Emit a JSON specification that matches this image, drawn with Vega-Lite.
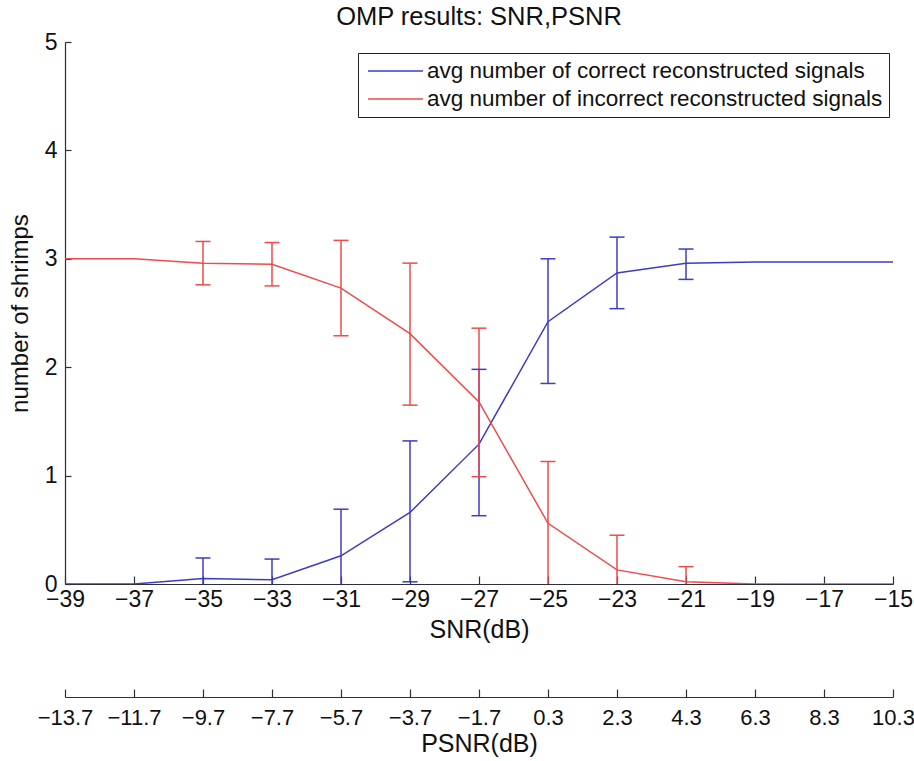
{
  "$schema": "https://vega.github.io/schema/vega-lite/v6.json",
  "width": 828,
  "height": 542,
  "autosize": {"type": "none"},
  "padding": {"left": 65, "top": 42, "right": 21, "bottom": 177},
  "background": "white",
  "config": {
    "font": "Liberation Sans",
    "view": {"stroke": null},
    "axis": {"grid": false, "domainColor": "#2e2e3e", "tickColor": "#2e2e3e", "labelColor": "#111", "titleColor": "#111", "labelFont": "Liberation Sans", "titleFont": "Liberation Sans", "titleFontWeight": "normal", "labelFontSize": 23, "titleFontSize": 25, "domainWidth": 1.2, "tickWidth": 1.2}
  },
  "title": {"text": "OMP results: SNR,PSNR", "fontSize": 25.5, "font": "Liberation Sans", "fontWeight": "normal", "color": "#111", "anchor": "middle", "offset": 8, "dy": 7},
  "datasets": {
    "main": [
      {"snr": -39, "series": "avg number of correct reconstructed signals", "value": 0.0, "lo": null, "hi": null},
      {"snr": -37, "series": "avg number of correct reconstructed signals", "value": 0.0, "lo": null, "hi": null},
      {"snr": -35, "series": "avg number of correct reconstructed signals", "value": 0.05, "lo": -0.14, "hi": 0.24},
      {"snr": -33, "series": "avg number of correct reconstructed signals", "value": 0.04, "lo": -0.15, "hi": 0.23},
      {"snr": -31, "series": "avg number of correct reconstructed signals", "value": 0.26, "lo": -0.17, "hi": 0.69},
      {"snr": -29, "series": "avg number of correct reconstructed signals", "value": 0.66, "lo": 0.02, "hi": 1.32},
      {"snr": -27, "series": "avg number of correct reconstructed signals", "value": 1.29, "lo": 0.63, "hi": 1.98},
      {"snr": -25, "series": "avg number of correct reconstructed signals", "value": 2.42, "lo": 1.85, "hi": 3.0},
      {"snr": -23, "series": "avg number of correct reconstructed signals", "value": 2.87, "lo": 2.54, "hi": 3.2},
      {"snr": -21, "series": "avg number of correct reconstructed signals", "value": 2.96, "lo": 2.81, "hi": 3.09},
      {"snr": -19, "series": "avg number of correct reconstructed signals", "value": 2.97, "lo": null, "hi": null},
      {"snr": -17, "series": "avg number of correct reconstructed signals", "value": 2.97, "lo": null, "hi": null},
      {"snr": -15, "series": "avg number of correct reconstructed signals", "value": 2.97, "lo": null, "hi": null},
      {"snr": -39, "series": "avg number of incorrect reconstructed signals", "value": 3.0, "lo": null, "hi": null},
      {"snr": -37, "series": "avg number of incorrect reconstructed signals", "value": 3.0, "lo": null, "hi": null},
      {"snr": -35, "series": "avg number of incorrect reconstructed signals", "value": 2.96, "lo": 2.76, "hi": 3.16},
      {"snr": -33, "series": "avg number of incorrect reconstructed signals", "value": 2.95, "lo": 2.75, "hi": 3.15},
      {"snr": -31, "series": "avg number of incorrect reconstructed signals", "value": 2.73, "lo": 2.29, "hi": 3.17},
      {"snr": -29, "series": "avg number of incorrect reconstructed signals", "value": 2.31, "lo": 1.65, "hi": 2.96},
      {"snr": -27, "series": "avg number of incorrect reconstructed signals", "value": 1.68, "lo": 0.99, "hi": 2.36},
      {"snr": -25, "series": "avg number of incorrect reconstructed signals", "value": 0.56, "lo": -0.01, "hi": 1.13},
      {"snr": -23, "series": "avg number of incorrect reconstructed signals", "value": 0.13, "lo": -0.19, "hi": 0.45},
      {"snr": -21, "series": "avg number of incorrect reconstructed signals", "value": 0.02, "lo": -0.12, "hi": 0.16},
      {"snr": -19, "series": "avg number of incorrect reconstructed signals", "value": 0.0, "lo": null, "hi": null},
      {"snr": -17, "series": "avg number of incorrect reconstructed signals", "value": 0.0, "lo": null, "hi": null},
      {"snr": -15, "series": "avg number of incorrect reconstructed signals", "value": 0.0, "lo": null, "hi": null}
    ],
    "psnr": [
      {"psnr": -13.7},
      {"psnr": 10.3}
    ]
  },
  "layer": [
    {
      "data": {"name": "main"},
      "encoding": {
        "x": {"field": "snr", "type": "quantitative", "scale": {"domain": [-39, -15], "nice": false, "zero": false},
          "axis": {"title": "SNR(dB)", "values": [-39, -37, -35, -33, -31, -29, -27, -25, -23, -21, -19, -17, -15], "tickSize": -8, "labelPadding": 12, "titlePadding": 6, "labelFlush": false, "labelOverlap": false}},
        "color": {"field": "series", "type": "nominal",
          "scale": {"domain": ["avg number of correct reconstructed signals", "avg number of incorrect reconstructed signals"], "range": ["#3c3cc4", "#f04a4a"]},
          "legend": {"title": null, "orient": "none", "legendX": 293, "legendY": 11, "symbolType": "M-0.73,0H4.27", "symbolSize": 484, "symbolStrokeWidth": 1.5, "symbolFillColor": "transparent", "labelOffset": 39, "labelFontSize": 22.5, "labelFont": "Liberation Sans", "labelColor": "#111", "strokeColor": "#222", "fillColor": "white", "padding": 6, "rowPadding": 4, "labelLimit": 600}}
      },
      "layer": [
        {"mark": {"type": "line", "strokeWidth": 1.5, "clip": true},
         "encoding": {"y": {"field": "value", "type": "quantitative", "scale": {"domain": [0, 5], "nice": false},
           "axis": {"title": "number of shrimps", "titleFontSize": 24, "values": [0, 1, 2, 3, 4, 5], "format": "d", "tickSize": -6, "labelPadding": 14, "titlePadding": 12, "labelFlush": false}}}},
        {"transform": [{"filter": "datum.hi != null"}],
         "mark": {"type": "rule", "strokeWidth": 1.5, "clip": true},
         "encoding": {"y": {"field": "lo", "type": "quantitative"}, "y2": {"field": "hi"}}},
        {"transform": [{"filter": "datum.hi != null"}],
         "mark": {"type": "tick", "orient": "horizontal", "size": 15, "thickness": 1.5, "clip": true, "opacity": 1},
         "encoding": {"y": {"field": "hi", "type": "quantitative"}}},
        {"transform": [{"filter": "datum.hi != null"}],
         "mark": {"type": "tick", "orient": "horizontal", "size": 15, "thickness": 1.5, "clip": true, "opacity": 1},
         "encoding": {"y": {"field": "lo", "type": "quantitative"}}}
      ]
    },
    {
      "data": {"name": "psnr"},
      "mark": {"type": "point", "opacity": 0},
      "encoding": {
        "x": {"field": "psnr", "type": "quantitative", "scale": {"domain": [-13.7, 10.3], "nice": false, "zero": false},
          "axis": {"orient": "bottom", "offset": 113, "title": "PSNR(dB)", "format": ".1f", "values": [-13.7, -11.7, -9.7, -7.7, -5.7, -3.7, -1.7, 0.3, 2.3, 4.3, 6.3, 8.3, 10.3], "labelFontSize": 22, "tickSize": -8, "labelPadding": 18, "titlePadding": 3, "labelFlush": false, "labelOverlap": false}}
      }
    }
  ],
  "resolve": {"scale": {"x": "independent"}, "axis": {"x": "independent"}}
}
